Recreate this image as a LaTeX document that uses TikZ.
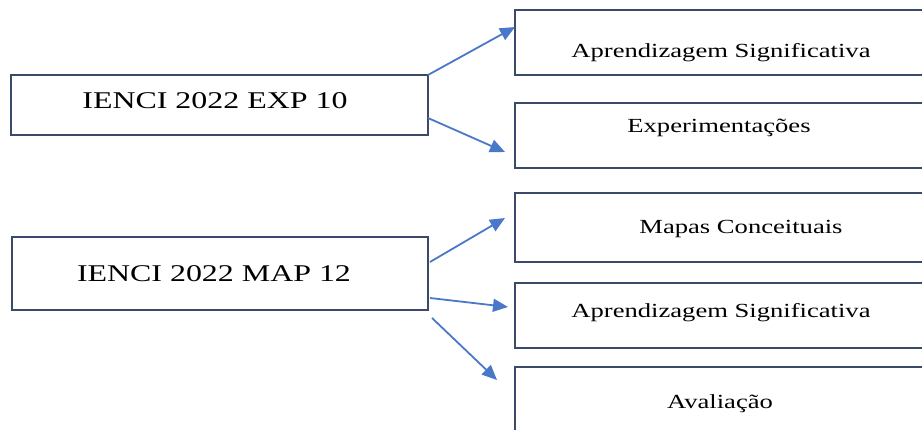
\documentclass[tikz,border=0pt]{standalone}
\usepackage{fontspec}
\setmainfont{Liberation Serif}[FakeStretch=1.33]
\usetikzlibrary{arrows.meta}
\definecolor{boxline}{HTML}{3A4A68}
\definecolor{arrowblue}{HTML}{4A78C8}
\tikzset{
  srcbox/.style={draw=boxline, line width=1.7pt, rectangle, inner sep=0pt},
  dstbox/.style={draw=boxline, line width=1.7pt, rectangle, inner sep=0pt},
  bigtxt/.style={anchor=base, inner sep=0pt, font=\fontsize{24}{28}\selectfont},
  smalltxt/.style={anchor=base, inner sep=0pt, font=\fontsize{20}{24}\selectfont},
  link/.style={draw=arrowblue, line width=1.8pt, -{Triangle[length=15pt,width=13pt]}}
}
\begin{document}
\begin{tikzpicture}[x=1pt, y=-1pt]
  \useasboundingbox (0,0) rectangle (922,429);
  \clip (0,0) rectangle (922,429);

  % source boxes
  \node[srcbox, minimum width=417pt, minimum height=60pt] (src1) at (219.5,105) {};
  \node[srcbox, minimum width=416pt, minimum height=73pt] (src2) at (220,273.5) {};
  \node[bigtxt] (src1t) at (215,108) {IENCI 2022 EXP 10};
  \node[bigtxt] (src2t) at (214,281) {IENCI 2022 MAP 12};

  % target boxes (right edge runs past the page)
  \node[dstbox, minimum width=410pt, minimum height=65pt] (dst1) at (720,42.5) {};
  \node[dstbox, minimum width=410pt, minimum height=65pt] (dst2) at (720,135.5) {};
  \node[dstbox, minimum width=410pt, minimum height=69pt] (dst3) at (720,227.5) {};
  \node[dstbox, minimum width=410pt, minimum height=65pt] (dst4) at (720,315.5) {};
  \node[dstbox, minimum width=410pt, minimum height=75pt] (dst5) at (720,404.5) {};

  \node[smalltxt] (dst1t) at (721,57) {Aprendizagem Significativa};
  \node[smalltxt] (dst2t) at (719,132) {Experimentações};
  \node[smalltxt] (dst3t) at (741,233) {Mapas Conceituais};
  \node[smalltxt] (dst4t) at (721,317) {Aprendizagem Significativa};
  \node[smalltxt] (dst5t) at (720,408) {Avaliação};

  % arrow end points
  \coordinate (a1s) at (428,75);   \coordinate (a1e) at (515,27);
  \coordinate (a2s) at (428,118);  \coordinate (a2e) at (505,152);
  \coordinate (a3s) at (430,262);  \coordinate (a3e) at (505,218);
  \coordinate (a4s) at (430,298);  \coordinate (a4e) at (508,307);
  \coordinate (a5s) at (432,318);  \coordinate (a5e) at (497,380);

  \draw[link] (a1s) -- (a1e);
  \draw[link] (a2s) -- (a2e);
  \draw[link] (a3s) -- (a3e);
  \draw[link] (a4s) -- (a4e);
  \draw[link] (a5s) -- (a5e);
\end{tikzpicture}
\end{document}
